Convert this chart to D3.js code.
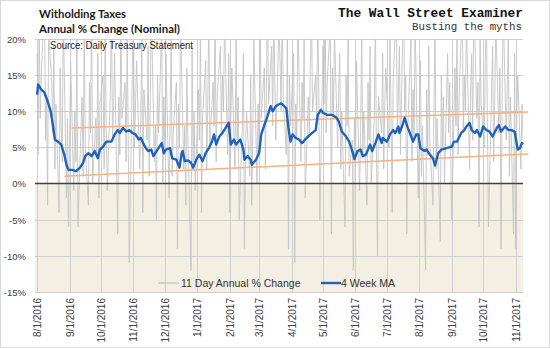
<!DOCTYPE html>
<html><head><meta charset="utf-8">
<script src="https://cdn.jsdelivr.net/npm/d3@7"></script>
<style>body{margin:0;background:#fff}svg{display:block}</style>
</head><body>
<script>
// ---------- DATA ----------
const tickLabels = ["8/1/2016","9/1/2016","10/1/2016","11/1/2016","12/1/2016","1/1/2017","2/1/2017","3/1/2017","4/1/2017","5/1/2017","6/1/2017","7/1/2017","8/1/2017","9/1/2017","10/1/2017","11/1/2017"];
const yTicks = [-15,-10,-5,0,5,10,15,20];

// 11 Day Annual % Change, one value per business day from dailyStart
const dailyStart = "8/1/2016";
const dailyChange = [
  18,4,22,9,15,26,6,12,-3,21,14,7,19,2,11,-4,16,8,3,24,-2,9,-6,
  6,17,-1,10,3,20,-6,8,12,1,22,5,-3,14,7,25,0,9,4,18,-2,11,
  15,2,21,8,-1,13,26,6,10,18,-7,12,4,23,9,14,3,20,7,-11,16,
  24,5,11,17,2,9,21,-4,13,6,19,1,10,25,3,8,-5,15,7,22,0,12,
  4,18,-2,9,20,1,7,14,-9,11,5,23,2,8,-3,16,6,-12,19,3,10,-1,
  13,6,22,-4,9,17,2,11,24,5,14,8,26,3,12,19,7,15,10,23,4,18,
  -4,9,16,2,21,6,12,-5,8,18,-9,4,10,1,15,-3,7,20,0,11,
  5,24,9,16,2,13,27,11,19,8,25,14,6,22,17,10,26,12,4,21,-9,15,8,
  18,-11,11,6,23,3,14,9,20,-2,12,7,17,25,10,15,8,24,13,-5,
  19,11,26,7,14,22,-7,16,9,21,5,13,18,2,10,-6,15,8,20,1,6,-12,9,
  3,17,-1,8,22,4,10,-3,14,6,19,0,9,24,5,-10,12,7,18,2,11,16,
  5,21,9,-4,14,25,7,12,19,4,27,10,15,-7,8,20,3,13,6,22,-2,
  10,17,1,8,-12,13,4,19,6,-3,11,22,2,9,-8,15,5,12,0,18,7,14,3,
  -5,16,8,21,4,12,25,7,15,10,23,2,13,18,6,26,9,14,-6,20,11,
  5,17,24,8,-6,13,19,3,11,22,7,16,-9,10,25,6,14,20,1,12,-7,18,
  -9,9,15,2,11,6
];

// 4 Week MA
const maDates = [
  "8/1/2016","8/2/2016","8/5/2016","8/8/2016","8/11/2016","8/14/2016","8/16/2016","8/18/2016","8/21/2016","8/24/2016","8/27/2016","8/29/2016","8/31/2016",
  "9/4/2016","9/7/2016","9/11/2016","9/14/2016","9/16/2016","9/19/2016","9/22/2016","9/25/2016","9/28/2016","9/30/2016",
  "10/3/2016","10/6/2016","10/11/2016","10/14/2016","10/17/2016","10/19/2016","10/22/2016","10/25/2016","10/28/2016","10/31/2016",
  "11/3/2016","11/6/2016","11/8/2016","11/12/2016","11/15/2016","11/18/2016","11/20/2016","11/24/2016","11/28/2016","11/30/2016",
  "12/2/2016","12/6/2016","12/8/2016","12/12/2016","12/15/2016","12/17/2016","12/18/2016","12/20/2016","12/23/2016","12/26/2016","12/28/2016","12/31/2016",
  "1/3/2017","1/6/2017","1/9/2017","1/12/2017","1/15/2017","1/17/2017","1/19/2017","1/22/2017","1/25/2017","1/28/2017","1/31/2017",
  "2/2/2017","2/5/2017","2/7/2017","2/11/2017","2/14/2017","2/15/2017","2/18/2017","2/21/2017","2/22/2017","2/26/2017",
  "3/1/2017","3/3/2017","3/6/2017","3/9/2017","3/12/2017","3/14/2017","3/17/2017","3/19/2017","3/22/2017","3/25/2017","3/27/2017","3/29/2017","3/31/2017",
  "4/2/2017","4/5/2017","4/8/2017","4/11/2017","4/14/2017","4/19/2017","4/24/2017","4/26/2017","4/29/2017",
  "5/1/2017","5/5/2017","5/10/2017","5/14/2017","5/16/2017","5/19/2017","5/23/2017","5/26/2017","5/29/2017","5/31/2017",
  "6/3/2017","6/6/2017","6/8/2017","6/11/2017","6/13/2017","6/15/2017","6/17/2017","6/20/2017","6/23/2017","6/26/2017","6/27/2017",
  "7/1/2017","7/4/2017","7/7/2017","7/9/2017","7/12/2017","7/13/2017","7/16/2017","7/18/2017","7/21/2017","7/23/2017","7/26/2017","7/29/2017","7/31/2017",
  "8/2/2017","8/6/2017","8/8/2017","8/11/2017","8/14/2017","8/16/2017","8/19/2017","8/22/2017","8/27/2017",
  "9/1/2017","9/3/2017","9/6/2017","9/10/2017","9/13/2017","9/15/2017","9/18/2017","9/20/2017","9/23/2017","9/25/2017","9/28/2017",
  "10/1/2017","10/4/2017","10/7/2017","10/10/2017","10/14/2017","10/16/2017","10/18/2017","10/22/2017","10/25/2017","10/28/2017","10/31/2017",
  "11/3/2017","11/5/2017","11/7/2017","11/8/2017"
];
const maValues = [
  12.3,13.7,13.0,12.6,11.4,10.0,8.1,6.1,5.8,5.4,4.0,2.6,1.9,
  1.9,1.7,2.2,2.9,3.8,4.2,3.8,4.5,3.5,4.7,
  5.1,5.8,5.8,6.8,7.4,7.0,7.7,7.2,7.4,7.0,
  6.8,6.1,6.3,5.1,4.5,4.7,3.8,4.7,5.6,4.2,
  4.7,4.9,3.5,3.3,2.2,4.2,4.5,3.1,3.2,2.9,2.2,3.3,
  4.0,3.1,4.2,4.9,5.8,6.8,5.4,6.5,7.0,7.7,8.4,
  5.4,6.1,5.4,6.1,4.7,3.3,3.8,3.3,2.6,3.3,
  4.2,6.8,8.1,9.3,10.7,10.0,10.7,10.9,11.1,10.7,10.4,7.7,5.8,
  6.8,6.3,6.1,5.6,6.1,6.8,7.4,9.5,10.2,
  9.8,9.5,9.5,9.1,8.6,7.2,6.5,5.8,4.5,3.4,
  4.5,4.7,3.8,4.0,4.7,5.4,4.5,5.6,6.8,5.6,6.3,
  5.8,6.8,7.4,7.0,7.9,7.0,8.1,9.1,7.7,7.0,5.8,6.8,6.8,
  4.9,4.5,4.7,4.0,3.5,2.5,4.2,4.7,4.9,
  5.1,5.8,5.8,7.0,7.4,7.9,8.4,7.4,7.0,7.4,6.5,
  7.9,7.4,7.2,6.5,7.7,8.1,7.2,7.9,7.4,7.4,7.2,
  4.7,4.9,5.6,5.4
];

// trend channel
const trendDates = ["9/3/2016","11/13/2017"];
const upperTrend = [7.7, 9.9];
const lowerTrendDates = ["8/27/2016","11/13/2017"];
const lowerTrend = [1.0, 4.1];

// ---------- CHART ----------
const W = 550, H = 348;
const parse = d3.timeParse("%m/%d/%Y");
const svg = d3.select("body").append("svg").attr("width", W).attr("height", H);

const x = d3.scaleTime().domain([parse("7/30/2016"), parse("11/8/2017")]).range([35, 523]);
const y = d3.scaleLinear().domain([-15, 20]).range([292, 39]);

svg.append("rect").attr("x",0.5).attr("y",0.5).attr("width",W-1).attr("height",H-1)
  .attr("fill","#fff").attr("stroke","#d9d9d9");

svg.append("defs").append("clipPath").attr("id","plotclip").append("rect")
  .attr("x",35).attr("y",39).attr("width",488).attr("height",253);

// beige negative area
svg.append("rect").attr("x",x.range()[0]).attr("y",y(0))
  .attr("width",x.range()[1]-x.range()[0]).attr("height",y(-15)-y(0))
  .attr("fill","#f3efe3");

// horizontal gridlines
svg.append("g").selectAll("line").data(yTicks.filter(v=>v!==0)).join("line")
  .attr("x1",x.range()[0]).attr("x2",x.range()[1])
  .attr("y1",d=>Math.round(y(d))+0.5).attr("y2",d=>Math.round(y(d))+0.5)
  .attr("stroke","#cfcfcf").attr("stroke-width",1);

// vertical month gridlines
const tickDates = tickLabels.map(parse);
svg.append("g").selectAll("line").data(tickDates).join("line")
  .attr("x1",d=>Math.round(x(d))+0.5).attr("x2",d=>Math.round(x(d))+0.5)
  .attr("y1",y(20)).attr("y2",y(-15))
  .attr("stroke","#cfcfcf").attr("stroke-width",1);

// daily series
const bdays = d3.timeDay.range(parse(dailyStart), d3.timeDay.offset(parse(dailyStart), 500))
  .filter(d => d.getDay() !== 0 && d.getDay() !== 6);
const daily = dailyChange.map((v,i)=>({date:bdays[i], value:v}));
svg.append("path").datum(daily)
  .attr("clip-path","url(#plotclip)")
  .attr("fill","none").attr("stroke","#c4c4c4").attr("stroke-width",0.9)
  .attr("d", d3.line().x(d=>x(d.date)).y(d=>y(d.value)));

// trend lines
const tl = d3.line().x(d=>x(d[0])).y(d=>y(d[1]));
svg.append("path").datum(trendDates.map((d,i)=>[parse(d), upperTrend[i]]))
  .attr("fill","none").attr("stroke","#f4b183").attr("stroke-width",1.5).attr("d", tl);
svg.append("path").datum(lowerTrendDates.map((d,i)=>[parse(d), lowerTrend[i]]))
  .attr("fill","none").attr("stroke","#f4b183").attr("stroke-width",1.5).attr("d", tl);

// zero line
svg.append("line").attr("x1",x.range()[0]).attr("x2",x.range()[1])
  .attr("y1",y(0)).attr("y2",y(0)).attr("stroke","#404040").attr("stroke-width",1.5);

// MA line
const ma = maDates.map((d,i)=>({date:parse(d), value:maValues[i]}));
svg.append("path").datum(ma)
  .attr("fill","none").attr("stroke","#1f63b8").attr("stroke-width",2.4)
  .attr("stroke-linejoin","round")
  .attr("d", d3.line().x(d=>x(d.date)).y(d=>y(d.value)));

// Y axis labels
const yAxis = svg.append("g").attr("transform","translate(26,0)")
  .call(d3.axisLeft(y).tickValues(yTicks).tickSize(0).tickPadding(0).tickFormat(d=>d+"%"));
yAxis.select(".domain").remove();
yAxis.selectAll("text").attr("font-family","Liberation Sans, Arial, sans-serif")
  .attr("font-size",9.5).attr("fill","#404040").attr("dy","0.35em");

// X axis labels
const xAxis = svg.append("g").attr("transform",`translate(0,${y(-15)})`)
  .call(d3.axisBottom(x).tickValues(tickDates).tickSize(0).tickFormat((d,i)=>tickLabels[i]));
xAxis.select(".domain").remove();
xAxis.selectAll("text")
  .attr("font-family","Liberation Sans, Arial, sans-serif").attr("font-size",10).attr("fill","#404040")
  .attr("text-anchor","end").attr("transform","rotate(-90)")
  .attr("x",-6).attr("y",0).attr("dy","0.35em");

// titles
const tf = "Lato, 'Open Sans', sans-serif";
svg.append("text").attr("x",39).attr("y",18).text("Witholding Taxes")
  .attr("font-family",tf).attr("font-weight","bold").attr("font-size",11.5).attr("fill","#1a1a1a")
  .attr("textLength",87).attr("lengthAdjust","spacingAndGlyphs");
svg.append("text").attr("x",39).attr("y",32.5).text("Annual % Change (Nominal)")
  .attr("font-family",tf).attr("font-weight","bold").attr("font-size",11.5).attr("fill","#1a1a1a")
  .attr("textLength",141).attr("lengthAdjust","spacingAndGlyphs");
svg.append("text").attr("x",50).attr("y",49).text("Source: Daily Treasury Statement")
  .attr("font-family","Liberation Sans, Arial, sans-serif").attr("font-size",10).attr("fill","#222")
  .attr("textLength",143).attr("lengthAdjust","spacingAndGlyphs");

svg.append("text").attr("x",523).attr("y",17).attr("text-anchor","end").text("The Wall Street Examiner")
  .attr("font-family","Liberation Mono, 'DejaVu Sans Mono', monospace").attr("font-weight","bold")
  .attr("font-size",12.5).attr("fill","#111")
  .attr("textLength",185).attr("lengthAdjust","spacingAndGlyphs");
svg.append("text").attr("x",522).attr("y",29.5).attr("text-anchor","end").text("Busting the myths")
  .attr("font-family","Liberation Mono, 'DejaVu Sans Mono', monospace")
  .attr("font-size",10).attr("fill","#333")
  .attr("textLength",110).attr("lengthAdjust","spacingAndGlyphs");

// legend
const lg = svg.append("g");
lg.append("line").attr("x1",158).attr("x2",179).attr("y1",283).attr("y2",283)
  .attr("stroke","#bdbdbd").attr("stroke-width",1.2);
lg.append("text").attr("x",181).attr("y",283).attr("dy","0.35em").text("11 Day Annual % Change")
  .attr("font-family","Liberation Sans, Arial, sans-serif").attr("font-size",10.5).attr("fill","#333");
lg.append("line").attr("x1",321).attr("x2",341).attr("y1",283).attr("y2",283)
  .attr("stroke","#1f63b8").attr("stroke-width",2.4);
lg.append("text").attr("x",341).attr("y",283).attr("dy","0.35em").text("4 Week MA")
  .attr("font-family","Liberation Sans, Arial, sans-serif").attr("font-size",10.5).attr("fill","#333");
</script>
</body></html>
